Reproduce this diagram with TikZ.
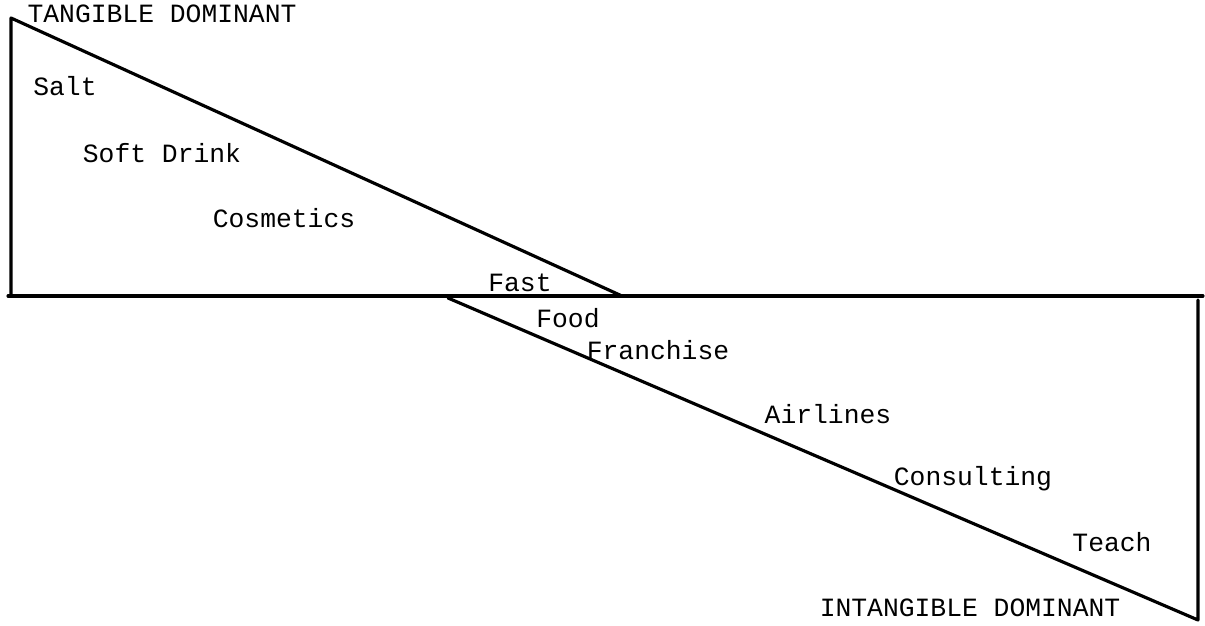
\documentclass[tikz,border=0pt]{standalone}
\usepackage{fontspec}
\setmonofont{Liberation Mono}
\usetikzlibrary{positioning}

\begin{document}
\begin{tikzpicture}[x=0.02cm,y=-0.02cm,
  lbl/.style={font=\ttfamily\fontsize{15}{18}\selectfont,inner sep=0pt},
  edge/.style={line width=1.8pt,line cap=round,line join=round}]
\useasboundingbox (0,0) rectangle (1205,626);
\coordinate (tA) at (11,18);
\coordinate (tB) at (11,296);
\coordinate (tC) at (622,296);
\coordinate (hL) at (8,296);
\coordinate (hR) at (1203,296);
\coordinate (iA) at (448,298);
\coordinate (iB) at (1198,300);
\coordinate (iC) at (1198,620);
\draw[edge] (hL) -- (hR);
\draw[edge] (tB) -- (tA) -- (tC);
\draw[edge] (iA) -- (iC) -- (iB);
\node[lbl] (tang) at (162,14) {TANGIBLE DOMINANT};
\node[lbl] (salt) at (65,86) {Salt};
\node[lbl] (soft) at (162,153) {Soft Drink};
\node[lbl] (cosm) at (284,218) {Cosmetics};
\node[lbl] (fast) at (520,283) {Fast};
\node[lbl] (food) at (568,318) {Food};
\node[lbl] (fran) at (658,350) {Franchise};
\node[lbl] (air) at (828,414) {Airlines};
\node[lbl] (cons) at (973,479) {Consulting};
\node[lbl] (teach) at (1112,542) {Teach};
\node[lbl] (intang) at (970,608) {INTANGIBLE DOMINANT};
\end{tikzpicture}
\end{document}
